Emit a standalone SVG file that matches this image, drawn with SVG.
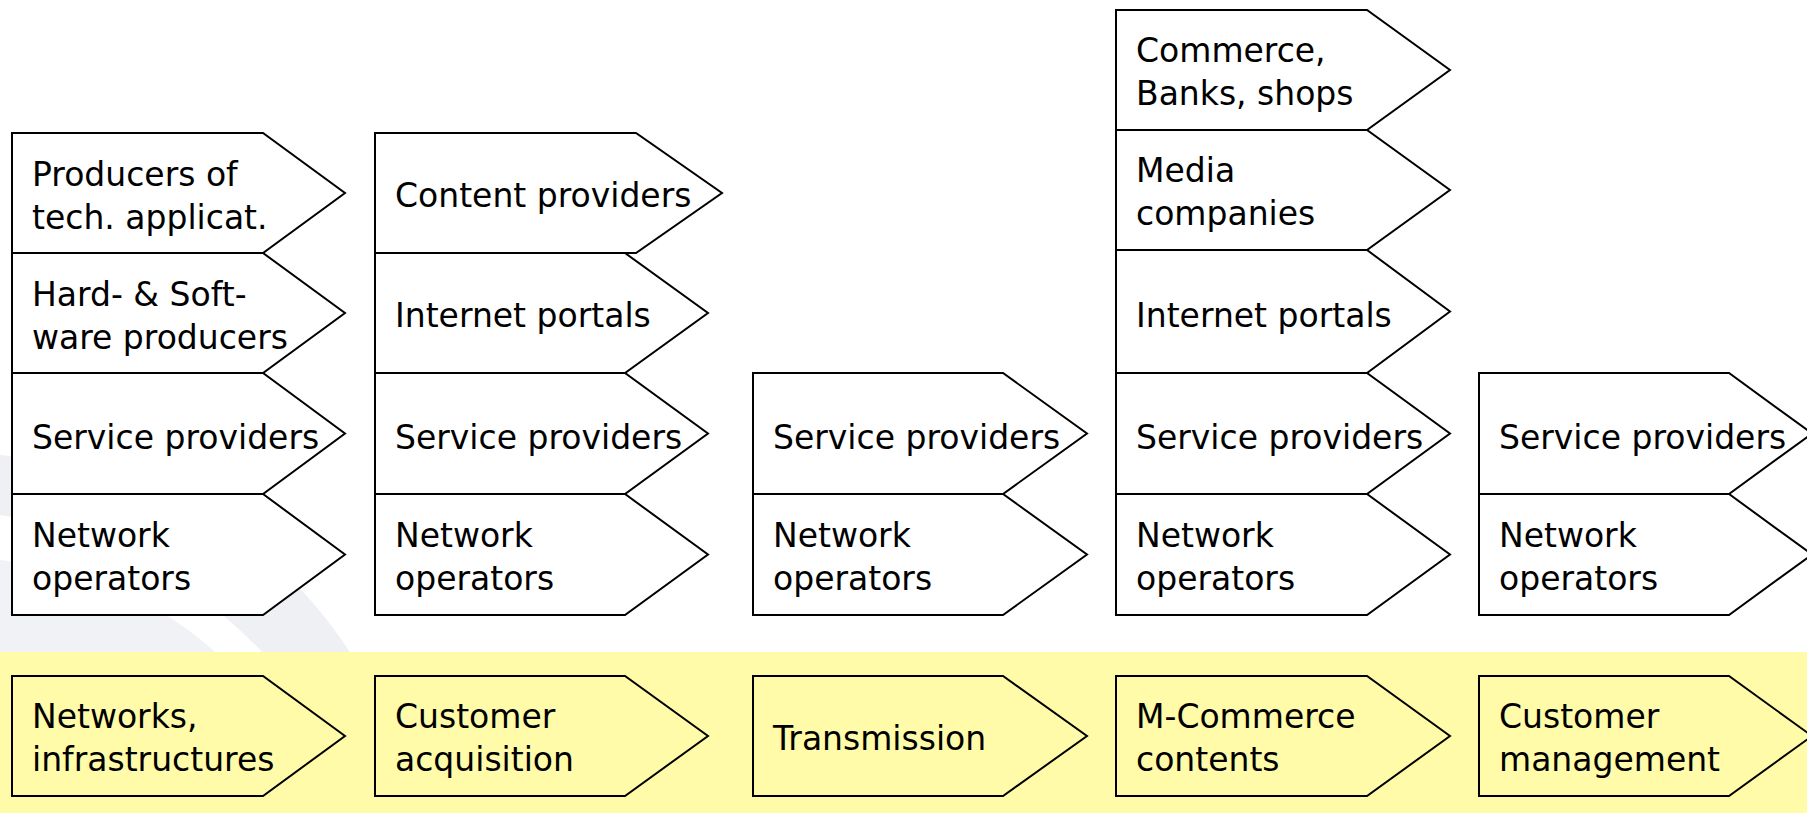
<svg xmlns="http://www.w3.org/2000/svg" width="1807" height="813" viewBox="0 0 1807 813">
<style>
.n{fill:#ffffff;stroke:#000;stroke-width:2;stroke-linejoin:miter}
.y{fill:#fffba8;stroke:#000;stroke-width:2;stroke-linejoin:miter}
text{font-family:"DejaVu Sans","Liberation Sans",sans-serif;font-size:33px;fill:#000}
</style>
<rect x="0" y="0" width="1807" height="813" fill="#ffffff"/>
<g id="background">
<path d="M0,455 Q230,470 350,652 L262,652 Q150,535 0,515 Z" fill="#eef0f4"/>
<path d="M0,560 Q130,575 215,652 L0,652 Z" fill="#f1f2f6"/>
<rect x="0" y="652" width="1807" height="161" fill="#fffba8"/>
</g>
<g id="connectors"/>
<!-- Column 1 -->
<g id="c1-producers"><path class="n" d="M12,133 h251 l82,60 l-82,60 h-251 Z"/><text x="32" y="186">Producers of</text><text x="32" y="229">tech. applicat.</text></g>
<g id="c1-hardsoft"><path class="n" d="M12,253 h251 l82,60 l-82,60 h-251 Z"/><text x="32" y="306">Hard- &amp; Soft-</text><text x="32" y="349">ware producers</text></g>
<g id="c1-service"><path class="n" d="M12,373 h251 l82,60.5 l-82,60.5 h-251 Z"/><text x="32" y="449">Service providers</text></g>
<g id="c1-network"><path class="n" d="M12,494 h251 l82,60.5 l-82,60.5 h-251 Z"/><text x="32" y="547">Network</text><text x="32" y="590">operators</text></g>
<!-- Column 2 -->
<g id="c2-content"><path class="n" d="M375,133 h261 l86,60 l-86,60 h-261 Z"/><text x="395" y="207">Content providers</text></g>
<g id="c2-portals"><path class="n" d="M375,253 h250 l83,60 l-83,60 h-250 Z"/><text x="395" y="327">Internet portals</text></g>
<g id="c2-service"><path class="n" d="M375,373 h250 l83,60.5 l-83,60.5 h-250 Z"/><text x="395" y="449">Service providers</text></g>
<g id="c2-network"><path class="n" d="M375,494 h250 l83,60.5 l-83,60.5 h-250 Z"/><text x="395" y="547">Network</text><text x="395" y="590">operators</text></g>
<!-- Column 3 -->
<g id="c3-service"><path class="n" d="M753,373 h250 l84,60.5 l-84,60.5 h-250 Z"/><text x="773" y="449">Service providers</text></g>
<g id="c3-network"><path class="n" d="M753,494 h250 l84,60.5 l-84,60.5 h-250 Z"/><text x="773" y="547">Network</text><text x="773" y="590">operators</text></g>
<!-- Column 4 -->
<g id="c4-commerce"><path class="n" d="M1116,10 h251 l83,60 l-83,60 h-251 Z"/><text x="1136" y="62">Commerce,</text><text x="1136" y="105">Banks, shops</text></g>
<g id="c4-media"><path class="n" d="M1116,130 h251 l83,60 l-83,60 h-251 Z"/><text x="1136" y="182">Media</text><text x="1136" y="225">companies</text></g>
<g id="c4-portals"><path class="n" d="M1116,250 h251 l83,61.5 l-83,61.5 h-251 Z"/><text x="1136" y="327">Internet portals</text></g>
<g id="c4-service"><path class="n" d="M1116,373 h251 l83,60.5 l-83,60.5 h-251 Z"/><text x="1136" y="449">Service providers</text></g>
<g id="c4-network"><path class="n" d="M1116,494 h251 l83,60.5 l-83,60.5 h-251 Z"/><text x="1136" y="547">Network</text><text x="1136" y="590">operators</text></g>
<!-- Column 5 -->
<g id="c5-service"><path class="n" d="M1479,373 h250 l83,60.5 l-83,60.5 h-250 Z"/><text x="1499" y="449">Service providers</text></g>
<g id="c5-network"><path class="n" d="M1479,494 h250 l83,60.5 l-83,60.5 h-250 Z"/><text x="1499" y="547">Network</text><text x="1499" y="590">operators</text></g>
<!-- Yellow row -->
<g id="y1-networks"><path class="y" d="M12,676 h251 l82,60 l-82,60 h-251 Z"/><text x="32" y="728">Networks,</text><text x="32" y="771">infrastructures</text></g>
<g id="y2-acquisition"><path class="y" d="M375,676 h250 l83,60 l-83,60 h-250 Z"/><text x="395" y="728">Customer</text><text x="395" y="771">acquisition</text></g>
<g id="y3-transmission"><path class="y" d="M753,676 h250 l84,60 l-84,60 h-250 Z"/><text x="773" y="750">Transmission</text></g>
<g id="y4-mcommerce"><path class="y" d="M1116,676 h251 l83,60 l-83,60 h-251 Z"/><text x="1136" y="728">M-Commerce</text><text x="1136" y="771">contents</text></g>
<g id="y5-management"><path class="y" d="M1479,676 h250 l83,60 l-83,60 h-250 Z"/><text x="1499" y="728">Customer</text><text x="1499" y="771">management</text></g>
</svg>
